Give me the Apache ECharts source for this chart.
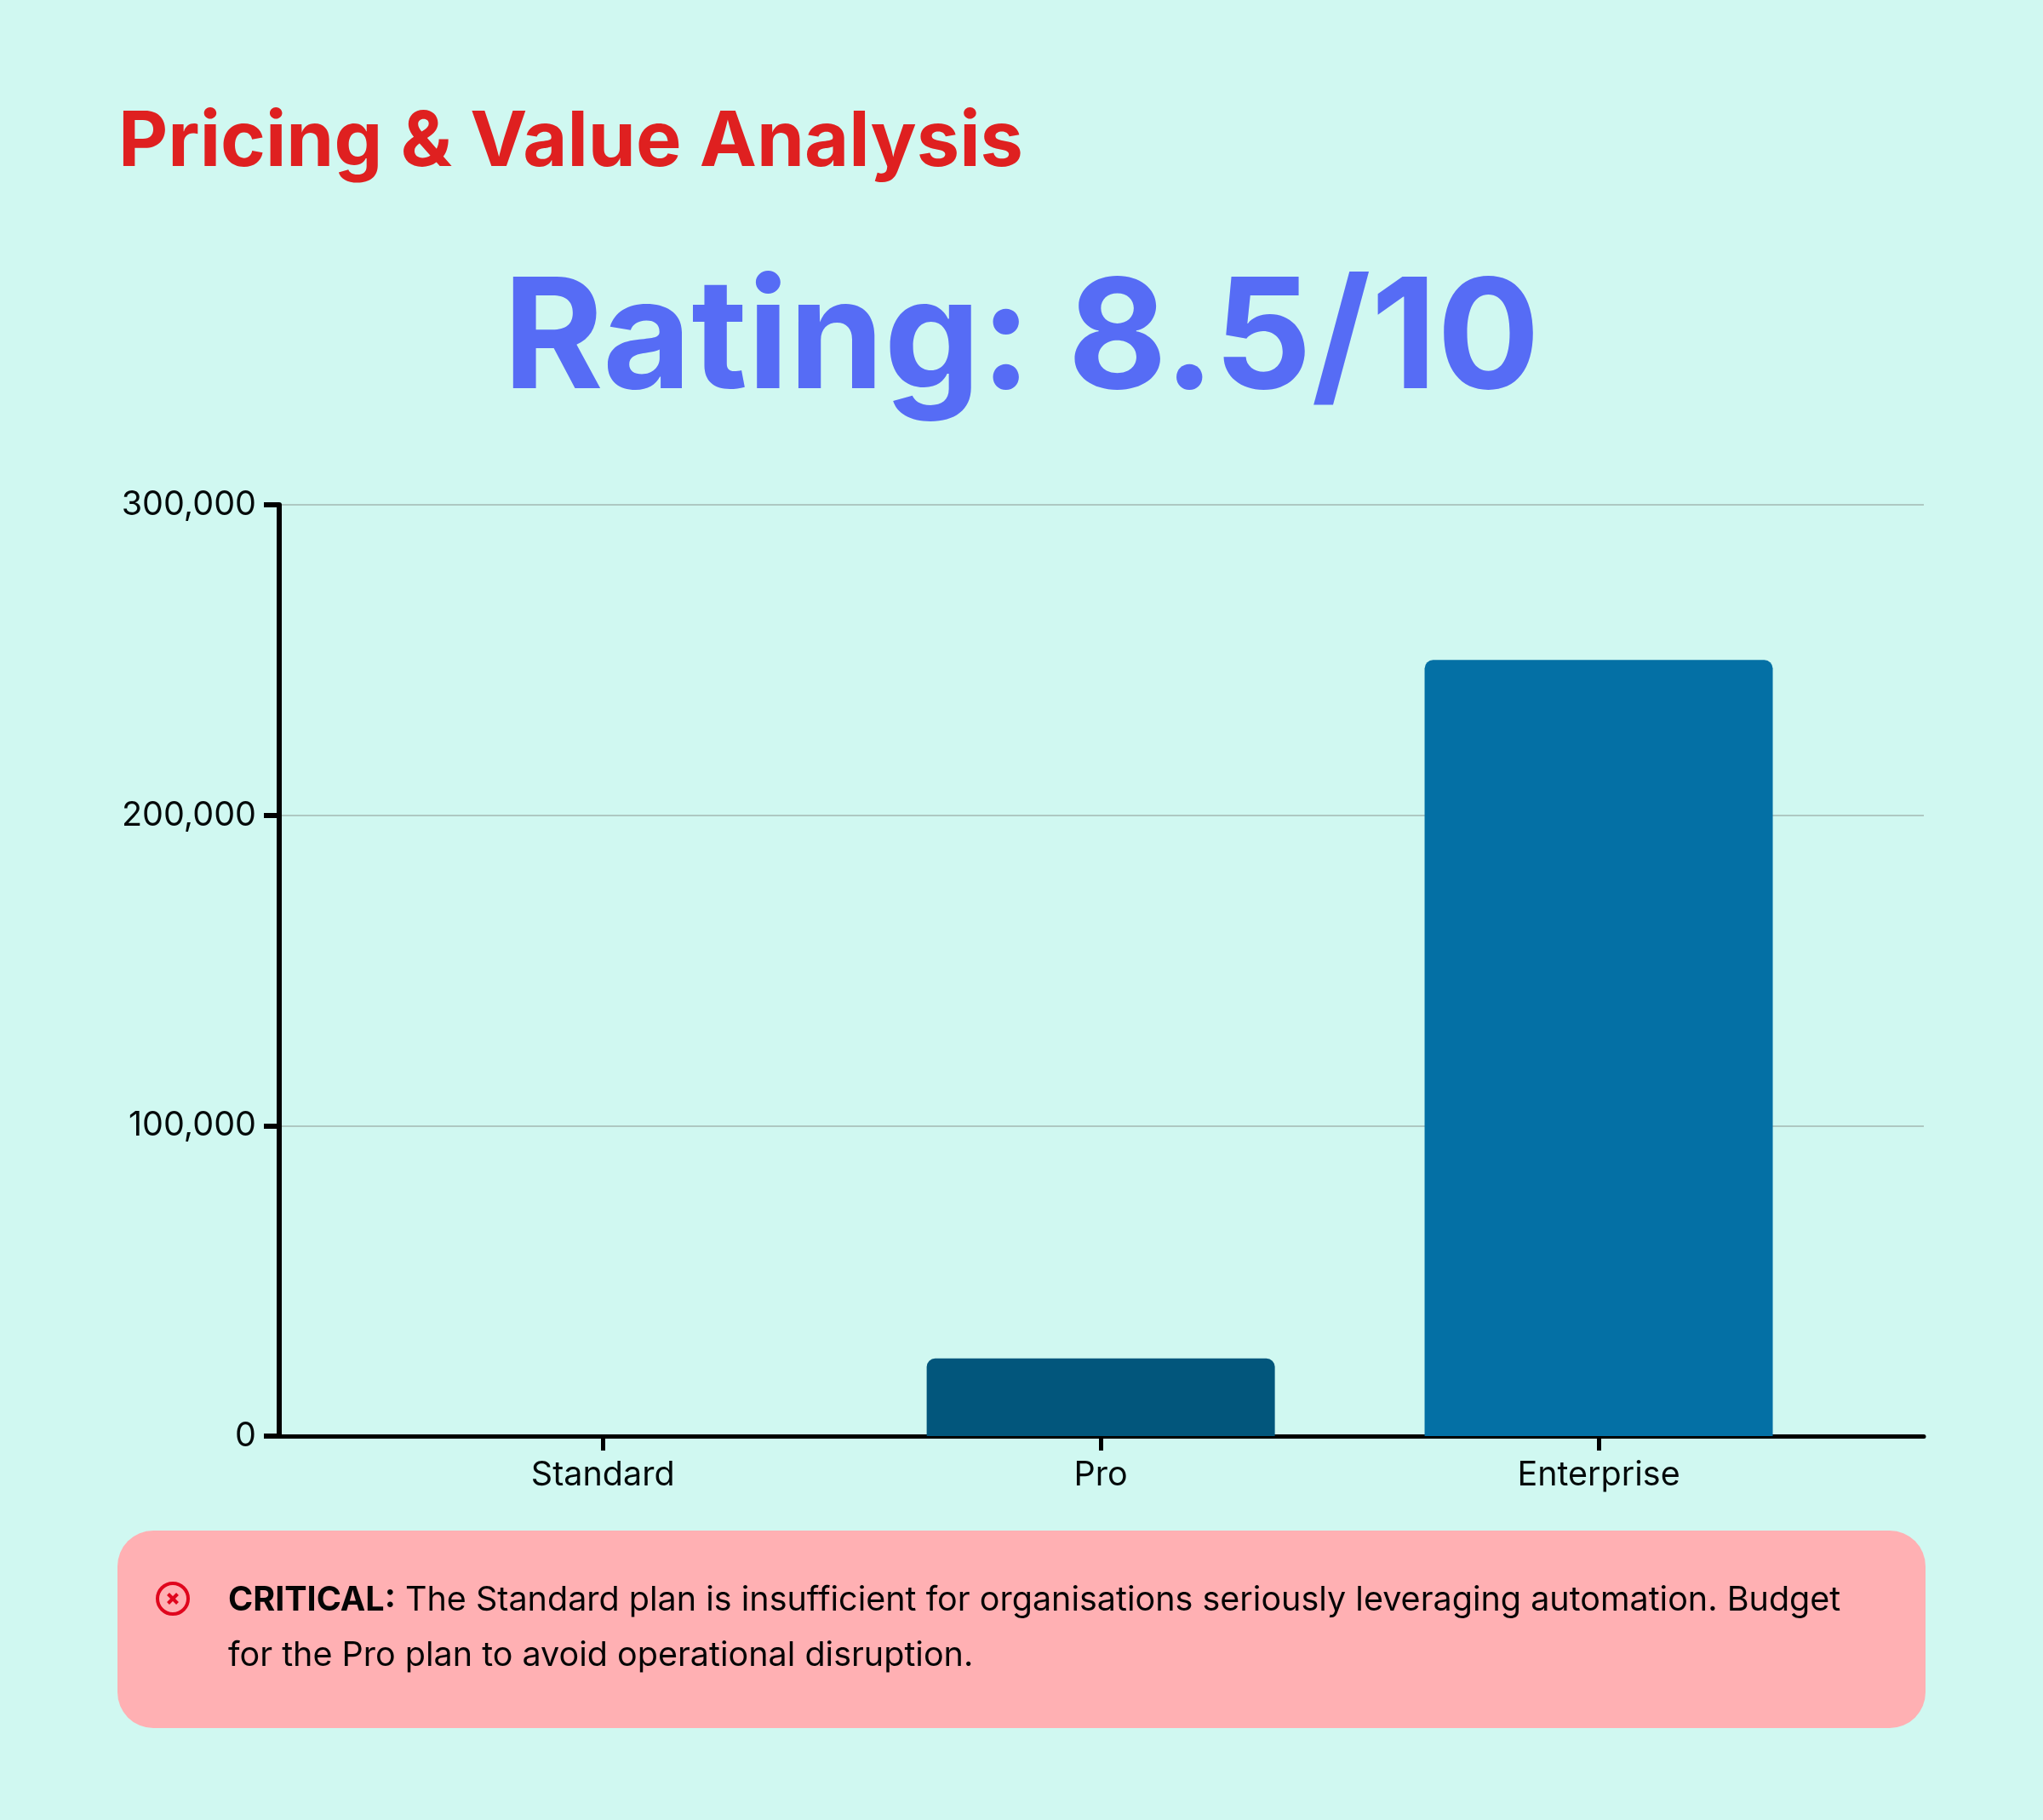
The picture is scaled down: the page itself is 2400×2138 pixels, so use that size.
<!DOCTYPE html>
<html>
<head>
<meta charset="utf-8">
<style>
  html, body { margin: 0; padding: 0; background: #d0f8f1; }
  #chart { width: 2400px; height: 2138px; }
</style>
<script src="https://cdn.jsdelivr.net/npm/echarts@6/dist/echarts.min.js"></script>
</head>
<body>
<div id="chart"></div>
<script>
// Plan pricing data
const planNames = ['Standard', 'Pro', 'Enterprise'];
const planPrices = [0, 25000, 250000];
const planColors = ['#02567c', '#02567c', '#0470a5'];
const priceTicks = [0, 100000, 200000, 300000];

const headingText = 'Pricing & Value Analysis';
const ratingText = 'Rating: 8.5/10';
const noticeLead = 'CRITICAL:';
const noticeFirstLine = ' The Standard plan is insufficient for organisations seriously leveraging automation. Budget';
const noticeSecondLine = 'for the Pro plan to avoid operational disruption.';

const FONT = 'Inter';
const INK = '#030a0a';
const planPositions = planNames.map((_, i) => i);

const chart = echarts.init(document.getElementById('chart'), null, { renderer: 'canvas' });

chart.setOption({
  backgroundColor: '#d0f8f1',
  animation: false,
  title: [
    {
      text: headingText, left: 134, top: 118,
      textStyle: { fontFamily: FONT, fontSize: 90, fontWeight: 700, color: '#df2020' }
    },
    {
      text: ratingText, left: 'center', top: 307,
      textStyle: { fontFamily: FONT, fontSize: 179.5, fontWeight: 700, color: '#566cf5' }
    }
  ],
  grid: { left: 328, top: 593, width: 1932, height: 1094, containLabel: false },
  // A numeric x axis leaves the inset at both ends of the plot that the three plans sit within
  xAxis: {
    type: 'value',
    min: -0.65,
    max: 2.653,
    splitLine: { show: false },
    axisLine: { show: true, onZero: false, lineStyle: { color: '#000', width: 5 } },
    axisTick: { show: true, customValues: planPositions, length: 17, lineStyle: { color: '#000', width: 5 } },
    axisLabel: {
      customValues: planPositions,
      formatter: (v) => planNames[Math.round(v)],
      margin: 26,
      fontFamily: FONT, fontSize: 39.5, color: INK
    }
  },
  yAxis: {
    type: 'value',
    min: priceTicks[0],
    max: priceTicks[priceTicks.length - 1],
    interval: priceTicks[1] - priceTicks[0],
    axisLine: { show: true, onZero: false, lineStyle: { color: '#000', width: 6 } },
    axisTick: { show: true, length: 18, lineStyle: { color: '#000', width: 6 } },
    axisLabel: {
      margin: 27,
      padding: [4, 0, 0, 0],
      formatter: (v) => v.toLocaleString('en-US'),
      verticalAlign: 'middle',
      verticalAlignMinLabel: 'middle',
      verticalAlignMaxLabel: 'middle',
      fontFamily: FONT, fontSize: 39.5, color: INK
    },
    splitLine: { show: true, lineStyle: { color: '#aec8c2', width: 2 } }
  },
  series: [{
    type: 'bar',
    barWidth: 409,
    itemStyle: { borderRadius: [10, 10, 0, 0] },
    data: planPrices.map((price, i) => ({
      value: [planPositions[i], price],
      itemStyle: { color: planColors[i] }
    }))
  }],
  graphic: [
    {
      type: 'rect', z: 1,
      shape: { x: 138, y: 1798, width: 2124, height: 232, r: 42 },
      style: { fill: '#ffb0b3' }
    },
    {
      type: 'circle', z: 2,
      shape: { cx: 203, cy: 1878, r: 18 },
      style: { fill: 'none', stroke: '#e0061d', lineWidth: 4 }
    },
    {
      type: 'line', z: 2,
      shape: { x1: 197.5, y1: 1872.5, x2: 208.5, y2: 1883.5 },
      style: { stroke: '#e0061d', lineWidth: 4 }
    },
    {
      type: 'line', z: 2,
      shape: { x1: 208.5, y1: 1872.5, x2: 197.5, y2: 1883.5 },
      style: { stroke: '#e0061d', lineWidth: 4 }
    },
    {
      type: 'text', z: 2, x: 268, y: 1880,
      style: {
        text: '{lead|' + noticeLead + '}{body|' + noticeFirstLine + '}',
        verticalAlign: 'middle',
        rich: {
          lead: { fontFamily: FONT, fontSize: 39.5, fontWeight: 700, fill: '#050505' },
          body: { fontFamily: FONT, fontSize: 39.5, fill: '#050505' }
        }
      }
    },
    {
      type: 'text', z: 2, x: 268, y: 1945,
      style: {
        text: noticeSecondLine,
        verticalAlign: 'middle',
        fontFamily: FONT, fontSize: 39.5, fill: '#050505'
      }
    }
  ]
});
</script>
</body>
</html>
